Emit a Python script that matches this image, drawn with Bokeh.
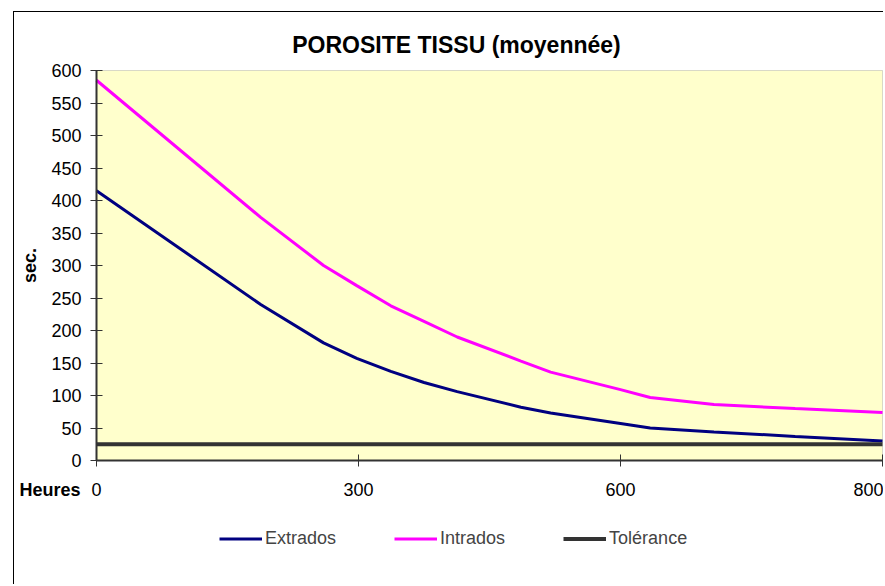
from bokeh.plotting import figure
from bokeh.models import Range1d, FixedTicker, Legend, LegendItem, Label, BoxAnnotation
from bokeh.embed import file_html
from bokeh.resources import INLINE

# ---- data ----
hours = [0, 188, 260, 298, 337, 375, 413, 486, 520, 600, 634, 707, 800, 900]
extrados = [415, 240, 181, 157, 137, 120, 106, 82, 73, 57, 50, 44, 37, 30]
intrados = [585, 374, 300, 269, 238, 214, 190, 153, 136, 109, 97, 86, 80, 74]
tolerance = [25, 25, 25, 25, 25, 25, 25, 25, 25, 25, 25, 25, 25, 25]

x_tick_values = [0, 300, 600, 900]
x_tick_labels = ["0", "300", "600", "800"]
y_tick_values = [0, 50, 100, 150, 200, 250, 300, 350, 400, 450, 500, 550, 600]

FONT = "Liberation Sans"

# ---- layout geometry (pixels on the page) ----
W, H = 870, 573
CANVAS_LEFT, CANVAS_TOP = 14, 12
PX0, PX_PER_X = 96, 262 / 300      # page x of hour 0, px per hour
PY0, PX_PER_Y = 460, 390 / 600     # page y of 0 sec, px per sec

x_start = (CANVAS_LEFT - PX0) / PX_PER_X
x_end = (CANVAS_LEFT + W - PX0) / PX_PER_X
y_end = (PY0 - CANVAS_TOP) / PX_PER_Y
y_start = (PY0 - (CANVAS_TOP + H)) / PX_PER_Y

p = figure(width=W, height=H, output_backend="svg", toolbar_location=None,
           x_range=Range1d(x_start, x_end), y_range=Range1d(y_start, y_end),
           min_border=0, margin=(11, 0, 0, 13),
           styles={"border-left": "1px solid #000000", "border-top": "1px solid #000000"})

p.background_fill_color = "#FFFFFF"
p.border_fill_color = "#FFFFFF"
p.outline_line_color = None
p.xgrid.visible = False
p.ygrid.visible = False

# plot area
p.add_layout(BoxAnnotation(left=0, right=900, bottom=0, top=600, level="underlay",
                           fill_color="#FFFFCC", fill_alpha=1,
                           line_color="#808080", line_width=1))

# axes
for ax in (p.xaxis[0], p.yaxis[0]):
    ax.fixed_location = 0
    ax.axis_line_color = "#333333"
    ax.axis_line_width = 2
    ax.major_tick_line_color = "#333333"
    ax.major_tick_line_width = 1
    ax.major_tick_in = 6
    ax.major_tick_out = 6
    ax.minor_tick_line_color = None
    ax.major_label_text_font = FONT
    ax.major_label_text_font_size = "18px"
    ax.major_label_text_color = "#000000"

p.xaxis.bounds = (0, 900)
p.xaxis.ticker = FixedTicker(ticks=x_tick_values)
p.xaxis.major_label_overrides = {v: l for v, l in zip(x_tick_values, x_tick_labels)}
p.xaxis.major_label_standoff = 16

p.yaxis.bounds = (0, 600)
p.yaxis.ticker = FixedTicker(ticks=y_tick_values)
p.yaxis.major_label_standoff = 9
p.yaxis.axis_label = "sec."
p.yaxis.axis_label_text_font = FONT
p.yaxis.axis_label_text_font_size = "18px"
p.yaxis.axis_label_text_font_style = "bold"
p.yaxis.axis_label_text_color = "#000000"
p.yaxis.axis_label_standoff = 8

# lines
r_ext = p.line(hours, extrados, line_color="#000080", line_width=3)
r_int = p.line(hours, intrados, line_color="#FF00FF", line_width=3)
r_tol = p.line(hours, tolerance, line_color="#333333", line_width=4)

# title
p.add_layout(Label(x=(456 - PX0) / PX_PER_X, y=(PY0 - 44) / PX_PER_Y,
                   text="POROSITE TISSU (moyennée)", text_align="center",
                   text_baseline="alphabetic", text_font=FONT, text_font_size="23px",
                   text_font_style="bold", text_color="#000000"))

# "Heures" label
p.add_layout(Label(x=(80 - PX0) / PX_PER_X, y=(PY0 - 489) / PX_PER_Y, text="Heures",
                   text_align="right", text_baseline="alphabetic",
                   text_font=FONT, text_font_size="18px", text_font_style="bold",
                   text_color="#000000"))

legend = Legend(items=[LegendItem(label="Extrados", renderers=[r_ext]),
                       LegendItem(label="Intrados", renderers=[r_int]),
                       LegendItem(label="Tolérance", renderers=[r_tol])],
                orientation="horizontal",
                location=(219 - CANVAS_LEFT, CANVAS_TOP + H - 549),
                border_line_color=None, background_fill_alpha=0,
                padding=0, margin=0, spacing=58, label_standoff=3,
                glyph_width=43, glyph_height=21,
                label_text_font=FONT, label_text_font_size="18px")
p.add_layout(legend)

open("out.html", "w").write(file_html(p, INLINE))
